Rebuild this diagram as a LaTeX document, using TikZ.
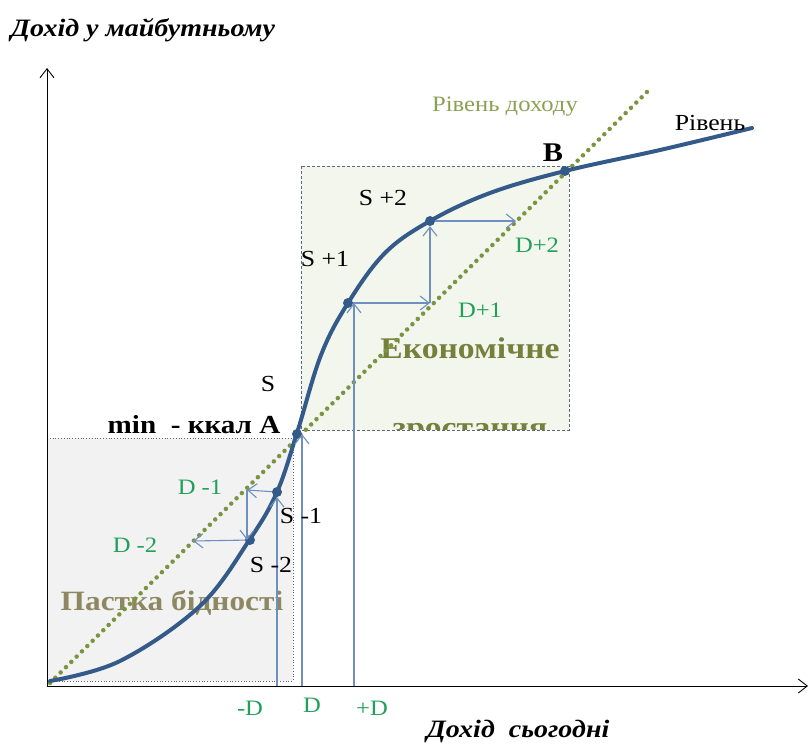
\documentclass[tikz,border=0pt]{standalone}
\usepackage{fontspec}
\setmainfont{Liberation Serif}[FakeStretch=1.12]
\usepackage{tikz}
\usetikzlibrary{arrows.meta, positioning, calc}
\usepackage{xcolor}
\definecolor{curveblue}{HTML}{345A8A}
\definecolor{incomegreen}{HTML}{7A9440}
\definecolor{incometext}{HTML}{8AA055}
\definecolor{stepblue}{HTML}{6F8FBF}
\definecolor{dgreen}{HTML}{20A05A}
\definecolor{growfill}{HTML}{F2F6EC}
\definecolor{trapfill}{HTML}{F2F2F2}
\definecolor{growtext}{HTML}{76803C}
\definecolor{traptext}{HTML}{8D8862}
\definecolor{boxedge}{HTML}{5C6878}
\tikzset{
  axis/.style={-{Straight Barb[length=9pt,width=14pt]}, line width=0.9pt},
  curveline/.style={curveblue, line width=4pt, line cap=round},
  incomeline/.style={incomegreen, line width=4.5pt, line cap=round, dash pattern=on 0pt off 7.5pt},
  steparrow/.style={stepblue, line width=1.1pt, -{Straight Barb[length=9pt,width=14pt]}},
  dotnode/.style={circle, fill=curveblue, inner sep=0pt, minimum size=10pt},
  slabel/.style={font=\fontsize{23}{23}\selectfont},
  dlabel/.style={text=dgreen, font=\fontsize{22}{22}\selectfont},
  axislabel/.style={font=\fontsize{25}{25}\selectfont\bfseries\itshape},
  zonelabel/.style={font=\fontsize{30}{30}\selectfont\bfseries}
}
\begin{document}
\begin{tikzpicture}[x=1pt, y=-1pt]
  \useasboundingbox (0,0) rectangle (811,745);
  % poverty trap zone
  \fill[trapfill] (47,438) rectangle (293,681);
  \draw[boxedge, dotted, line width=0.8pt] (47,438) -- (293,438) -- (293,681) -- (47,681);
  % growth zone
  \fill[growfill] (301,166) rectangle (569,430);
  \draw[boxedge, line width=0.8pt, dash pattern=on 3pt off 2pt] (301,166) rectangle (569,430);
  \begin{scope}
    \clip (301,166) rectangle (569,429);
    \node[zonelabel, text=growtext] (grow1) at (470,348) {Економічне};
    \node[zonelabel, text=growtext, anchor=base] (grow2) at (470,437) {зростання};
  \end{scope}
  \node[zonelabel, text=traptext, font=\fontsize{28}{28}\selectfont\bfseries] (trap) at (172,603) {Пастка бідності};
  % axes
  \coordinate (O) at (47,686);
  \coordinate (ytop) at (47,68);
  \coordinate (xend) at (808,686);
  \draw[axis] (O) -- (ytop);
  \draw[axis] (O) -- (xend);
  \node[axislabel] (ylab) at (143,30) {Дохід у майбутньому};
  \node[axislabel] (xlab) at (518,731) {Дохід\ \ сьогодні};
  % income level line
  \coordinate (inc0) at (50,683);
  \coordinate (inc1) at (652,87);
  \draw[incomeline] (inc0) -- (inc1);
  \node[text=incometext, font=\fontsize{22}{22}\selectfont] (inclab) at (505,107) {Рівень доходу};
  % S-curve
  \draw[curveline] plot[smooth, tension=0.6] coordinates {(50,681) (120,661) (200,606) (250,539)
    (277,492) (297,433) (321,355) (348,303) (385,253) (430,221) (490,193) (565,171) (660,150) (752,128)};
  \node[font=\fontsize{23}{23}\selectfont] (curvelab) at (710,123) {Рівень};
  % points on the curve
  \node[dotnode] (A) at (297,434) {};
  \node[dotnode] (B) at (565,171) {};
  \node[dotnode] (Sp1) at (348,303) {};
  \node[dotnode] (Sp2) at (430,221) {};
  \node[dotnode] (Sm1) at (277,492) {};
  \node[dotnode] (Sm2) at (250,540) {};
  % feet on the x-axis
  \coordinate (footmD) at (277,686);
  \coordinate (footD) at (302,686);
  \coordinate (footpD) at (354,686);
  \draw[steparrow] (footmD) -- (Sm1);
  \draw[steparrow] (footD) -- (footD |- A);
  \draw[steparrow] (footpD) -- (footpD |- Sp1);
  % steps up
  \coordinate (Dp1) at (430,303);
  \coordinate (Dp2) at (516,221);
  \draw[steparrow] (Sp1) -- (Dp1);
  \draw[steparrow] (Dp1) -- (Sp2);
  \draw[steparrow] (Sp2) -- (Dp2);
  % steps down
  \coordinate (Dm1) at (247,490);
  \coordinate (Dm2) at (193,541);
  \draw[steparrow] (Sm1) -- (Dm1);
  \draw[steparrow] (Dm1) -- (Dm1 |- Sm2);
  \draw[steparrow] (Sm2) -- (Dm2);
  % labels
  \node[font=\fontsize{27}{27}\selectfont\bfseries] (Blab) at (553,153) {B};
  \node[font=\fontsize{26}{26}\selectfont\bfseries] (Alab) at (194,425) {min\ \ - ккал А};
  \node[slabel] (Slab) at (268,384) {S};
  \node[slabel] (Sp2lab) at (383,198) {S +2};
  \node[slabel] (Sp1lab) at (325,259) {S +1};
  \node[slabel] (Sm1lab) at (301,516) {S -1};
  \node[slabel] (Sm2lab) at (271,565) {S -2};
  \node[dlabel] (Dp2lab) at (537,245) {D+2};
  \node[dlabel] (Dp1lab) at (480,310) {D+1};
  \node[dlabel] (Dm1lab) at (200,487) {D -1};
  \node[dlabel] (Dm2lab) at (135,545) {D -2};
  \node[dlabel] (mDlab) at (250,708) {-D};
  \node[dlabel] (Dlab) at (312,705) {D};
  \node[dlabel] (pDlab) at (372,708) {+D};
\end{tikzpicture}
\end{document}
